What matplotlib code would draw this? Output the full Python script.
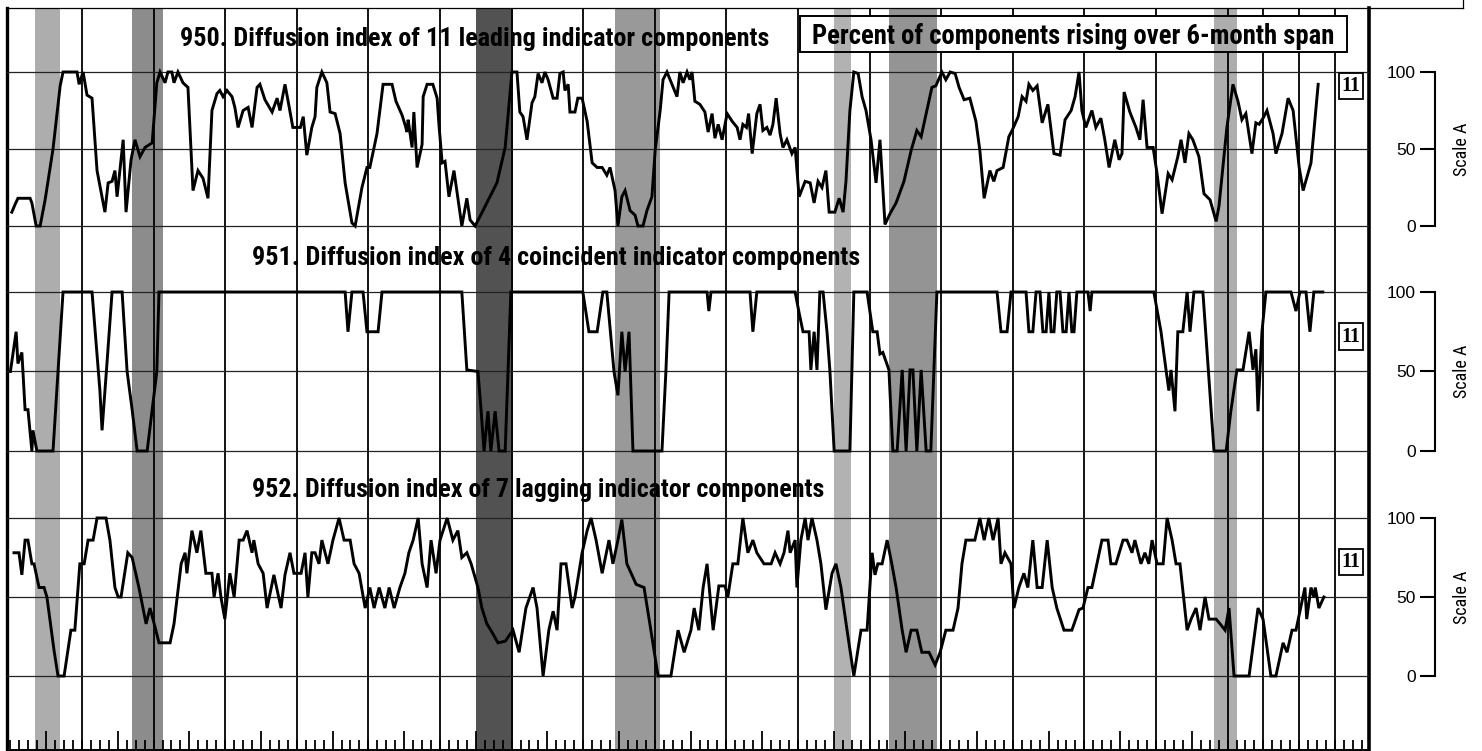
import matplotlib
matplotlib.use('Agg')
import matplotlib.pyplot as plt
from matplotlib import font_manager as fm
from matplotlib.patches import Rectangle
from matplotlib.lines import Line2D
from matplotlib.transforms import blended_transform_factory

###############################################################################
# Data (decimal years / percent rising)
###############################################################################

lead_t = [1957.04, 1957.13, 1957.21, 1957.55, 1957.60, 1957.72, 1957.83, 1957.97, 1958.19, 1958.39,
          1958.47, 1958.86, 1958.92, 1959.03, 1959.14, 1959.28, 1959.42, 1959.64, 1959.73, 1959.84,
          1959.92, 1959.98, 1960.15, 1960.23, 1960.37, 1960.48, 1960.62, 1960.76, 1960.96, 1961.09,
          1961.18, 1961.32, 1961.40, 1961.51, 1961.57, 1961.68, 1961.82, 1961.96, 1962.10, 1962.24,
          1962.38, 1962.52, 1962.63, 1962.77, 1962.85, 1962.94, 1963.05, 1963.19, 1963.27, 1963.36,
          1963.50, 1963.64, 1963.75, 1963.89, 1963.97, 1964.11, 1964.31, 1964.45, 1964.53, 1964.67,
          1964.75, 1964.89, 1965.10, 1965.18, 1965.28, 1965.42, 1965.51, 1965.56, 1965.70, 1965.84,
          1965.93, 1966.07, 1966.21, 1966.35, 1966.54, 1966.63, 1966.82, 1966.96, 1967.04, 1967.24,
          1967.41, 1967.66, 1967.77, 1967.94, 1968.02, 1968.08, 1968.11, 1968.22, 1968.27, 1968.36,
          1968.50, 1968.53, 1968.64, 1968.80, 1968.92, 1968.97, 1969.06, 1969.14, 1969.25, 1969.39,
          1969.61, 1969.75, 1969.84, 1969.98, 1970.20, 1970.59, 1970.82, 1971.01, 1971.15, 1971.23,
          1971.32, 1971.43, 1971.57, 1971.65, 1971.74, 1971.85, 1971.93, 1972.02, 1972.16, 1972.27,
          1972.35, 1972.44, 1972.49, 1972.58, 1972.63, 1972.77, 1972.85, 1972.97, 1973.11, 1973.25,
          1973.39, 1973.53, 1973.66, 1973.75, 1973.89, 1973.97, 1974.08, 1974.17, 1974.31, 1974.45,
          1974.53, 1974.67, 1974.78, 1974.92, 1975.01, 1975.15, 1975.23, 1975.34, 1975.48, 1975.62,
          1975.70, 1975.79, 1975.90, 1975.98, 1976.04, 1976.12, 1976.26, 1976.40, 1976.49, 1976.60,
          1976.68, 1976.77, 1976.88, 1977.02, 1977.16, 1977.30, 1977.38, 1977.46, 1977.56, 1977.62,
          1977.72, 1977.85, 1977.94, 1978.02, 1978.13, 1978.22, 1978.30, 1978.39, 1978.50, 1978.58,
          1978.69, 1978.83, 1978.92, 1979.03, 1979.20, 1979.34, 1979.45, 1979.56, 1979.67, 1979.78,
          1979.87, 1980.03, 1980.15, 1980.26, 1980.34, 1980.45, 1980.56, 1980.68, 1980.79, 1980.90,
          1981.04, 1981.18, 1981.29, 1981.43, 1981.57, 1981.74, 1981.96, 1982.16, 1982.32, 1982.44,
          1982.60, 1982.74, 1982.85, 1983.02, 1983.13, 1983.25, 1983.39, 1983.50, 1983.64, 1983.80,
          1983.97, 1984.08, 1984.20, 1984.36, 1984.47, 1984.56, 1984.73, 1984.89, 1984.98, 1985.15,
          1985.26, 1985.37, 1985.45, 1985.56, 1985.68, 1985.82, 1985.98, 1986.15, 1986.32, 1986.46,
          1986.63, 1986.74, 1986.85, 1986.93, 1987.04, 1987.21, 1987.32, 1987.46, 1987.57, 1987.69,
          1987.85, 1987.97, 1988.05, 1988.11, 1988.27, 1988.44, 1988.55, 1988.64, 1988.75, 1988.92,
          1989.03, 1989.17, 1989.34, 1989.45, 1989.61, 1989.70, 1989.81, 1989.92, 1990.03, 1990.20,
          1990.34, 1990.51, 1990.68, 1990.76, 1990.98, 1991.15, 1991.29, 1991.40, 1991.51, 1991.68,
          1991.79, 1991.88, 1991.99, 1992.10, 1992.27, 1992.35, 1992.52, 1992.69, 1992.83, 1993.00,
          1993.11, 1993.33, 1993.53]
lead_v = [9, 14, 18, 18, 15, 0, 0, 17, 50, 91,
          100, 100, 92, 100, 85, 83, 36, 9, 28, 29,
          36, 19, 56, 9, 43, 56, 45, 51, 54, 93,
          100, 93, 100, 100, 93, 100, 93, 90, 23, 36,
          31, 18, 75, 86, 88, 84, 88, 84, 77, 64,
          75, 77, 64, 90, 92, 82, 74, 83, 75, 92,
          82, 64, 64, 71, 46, 64, 71, 90, 100, 93,
          74, 73, 60, 28, 2, 0, 25, 38, 38, 60,
          92, 92, 81, 72, 66, 61, 69, 51, 74, 38,
          53, 84, 92, 92, 83, 66, 41, 42, 19, 36,
          0, 18, 4, 0, 10, 28, 51, 100, 100, 74,
          71, 56, 80, 84, 99, 93, 100, 95, 83, 83,
          99, 100, 88, 92, 74, 74, 83, 83, 68, 41,
          38, 38, 33, 38, 23, 0, 19, 23, 10, 7,
          0, 0, 10, 19, 49, 75, 95, 100, 92, 84,
          100, 93, 100, 95, 100, 81, 79, 74, 61, 73,
          57, 66, 56, 73, 68, 64, 56, 66, 64, 73,
          47, 73, 79, 62, 64, 59, 66, 83, 60, 51,
          56, 47, 51, 19, 29, 28, 15, 29, 25, 36,
          9, 9, 18, 9, 29, 75, 100, 99, 84, 75,
          56, 28, 56, 1, 8, 15, 29, 49, 62, 58,
          75, 90, 91, 100, 95, 100, 99, 90, 82, 83,
          68, 49, 18, 36, 29, 36, 38, 58, 62, 71,
          84, 81, 92, 88, 91, 67, 79, 47, 46, 69,
          75, 84, 100, 75, 64, 75, 64, 70, 56, 38,
          56, 43, 47, 87, 74, 64, 56, 82, 51, 51,
          34, 8, 34, 30, 45, 56, 41, 60, 56, 45,
          21, 17, 3, 13, 64, 92, 81, 69, 73, 47,
          67, 66, 70, 75, 60, 47, 60, 83, 75, 38,
          23, 41, 92]

coin_t = [1957.00, 1957.16, 1957.21, 1957.32, 1957.41, 1957.49, 1957.60, 1957.63, 1957.74, 1958.19,
          1958.33, 1958.47, 1959.28, 1959.50, 1959.56, 1959.70, 1959.84, 1960.12, 1960.26, 1960.40,
          1960.54, 1960.82, 1960.96, 1961.09, 1961.15, 1966.35, 1966.43, 1966.54, 1966.85, 1966.96,
          1967.27, 1967.38, 1969.61, 1969.75, 1970.06, 1970.15, 1970.23, 1970.34, 1970.42, 1970.54,
          1970.65, 1970.82, 1970.98, 1972.99, 1973.16, 1973.39, 1973.55, 1973.66, 1973.86, 1973.97,
          1974.08, 1974.17, 1974.28, 1974.39, 1975.20, 1975.31, 1975.40, 1976.46, 1976.51, 1976.57,
          1977.66, 1977.74, 1977.85, 1978.92, 1979.03, 1979.14, 1979.31, 1979.36, 1979.45, 1979.53,
          1979.61, 1979.70, 1979.81, 1979.89, 1980.01, 1980.45, 1980.56, 1980.93, 1981.09, 1981.21,
          1981.29, 1981.37, 1981.54, 1981.65, 1981.77, 1981.91, 1982.02, 1982.13, 1982.21, 1982.32,
          1982.44, 1982.58, 1982.71, 1982.88, 1984.56, 1984.67, 1984.84, 1984.95, 1985.37, 1985.45,
          1985.56, 1985.65, 1985.76, 1985.84, 1985.93, 1986.01, 1986.07, 1986.15, 1986.23, 1986.32,
          1986.40, 1986.49, 1986.57, 1986.65, 1986.71, 1986.79, 1987.10, 1987.16, 1987.21, 1988.94,
          1989.14, 1989.28, 1989.36, 1989.42, 1989.53, 1989.61, 1989.75, 1989.87, 1989.95, 1990.06,
          1990.31, 1990.62, 1990.96, 1991.09, 1991.26, 1991.43, 1991.60, 1991.71, 1991.79, 1991.85,
          1991.96, 1992.07, 1992.77, 1992.91, 1993.02, 1993.19, 1993.30, 1993.41, 1993.66]
coin_v = [50, 75, 55, 62, 26, 26, 0, 13, 0, 0,
          50, 100, 100, 38, 13, 56, 100, 100, 50, 26,
          0, 0, 26, 50, 100, 100, 75, 100, 100, 75,
          75, 100, 100, 51, 50, 25, 0, 25, 0, 25,
          0, 0, 100, 100, 75, 75, 100, 100, 50, 35,
          75, 50, 75, 0, 0, 50, 100, 100, 88, 100,
          100, 75, 100, 100, 87, 75, 75, 51, 75, 51,
          100, 100, 75, 51, 0, 0, 100, 100, 75, 75,
          61, 62, 51, 0, 0, 51, 0, 51, 51, 0,
          51, 0, 0, 100, 100, 75, 75, 100, 100, 75,
          75, 100, 100, 75, 75, 100, 75, 75, 100, 100,
          75, 75, 100, 75, 75, 100, 100, 88, 100, 100,
          75, 51, 38, 51, 25, 75, 75, 100, 75, 100,
          100, 0, 0, 25, 51, 51, 75, 51, 64, 25,
          75, 100, 100, 88, 100, 100, 75, 100, 100]

lag_t = [1957.10, 1957.24, 1957.32, 1957.41, 1957.49, 1957.60, 1957.66, 1957.80, 1957.94, 1958.02,
         1958.22, 1958.33, 1958.50, 1958.69, 1958.80, 1958.94, 1959.06, 1959.17, 1959.31, 1959.42,
         1959.67, 1959.78, 1959.92, 1960.01, 1960.09, 1960.28, 1960.40, 1960.59, 1960.79, 1960.90,
         1961.04, 1961.15, 1961.46, 1961.57, 1961.77, 1961.88, 1961.93, 1962.07, 1962.21, 1962.32,
         1962.46, 1962.63, 1962.69, 1962.80, 1962.88, 1962.99, 1963.13, 1963.25, 1963.39, 1963.50,
         1963.61, 1963.75, 1963.80, 1963.92, 1964.06, 1964.17, 1964.36, 1964.56, 1964.67, 1964.81,
         1964.92, 1965.12, 1965.23, 1965.31, 1965.42, 1965.51, 1965.62, 1965.70, 1965.87, 1966.01,
         1966.18, 1966.32, 1966.49, 1966.60, 1966.74, 1966.91, 1967.04, 1967.16, 1967.30, 1967.46,
         1967.58, 1967.72, 1967.88, 1968.02, 1968.13, 1968.25, 1968.39, 1968.50, 1968.64, 1968.75,
         1968.89, 1969.00, 1969.20, 1969.36, 1969.50, 1969.61, 1969.75, 1969.87, 1970.06, 1970.17,
         1970.31, 1970.42, 1970.62, 1970.82, 1971.04, 1971.21, 1971.40, 1971.60, 1971.71, 1971.88,
         1972.04, 1972.16, 1972.27, 1972.38, 1972.52, 1972.69, 1972.77, 1972.97, 1973.11, 1973.22,
         1973.36, 1973.53, 1973.72, 1973.83, 1973.97, 1974.08, 1974.22, 1974.48, 1974.70, 1974.89,
         1975.09, 1975.45, 1975.65, 1975.82, 1976.01, 1976.10, 1976.23, 1976.35, 1976.46, 1976.63,
         1976.79, 1976.96, 1977.04, 1977.18, 1977.32, 1977.46, 1977.60, 1977.74, 1977.85, 1978.05,
         1978.25, 1978.36, 1978.50, 1978.61, 1978.72, 1978.78, 1978.92, 1978.97, 1979.08, 1979.20,
         1979.28, 1979.39, 1979.53, 1979.64, 1979.78, 1979.95, 1980.06, 1980.20, 1980.37, 1980.56,
         1980.76, 1980.93, 1981.07, 1981.15, 1981.23, 1981.35, 1981.49, 1981.62, 1981.74, 1981.91,
         1982.02, 1982.16, 1982.32, 1982.46, 1982.66, 1982.83, 1982.97, 1983.13, 1983.33, 1983.47,
         1983.58, 1983.69, 1983.94, 1984.08, 1984.20, 1984.33, 1984.45, 1984.59, 1984.67, 1984.78,
         1984.95, 1985.03, 1985.17, 1985.31, 1985.42, 1985.56, 1985.68, 1985.82, 1985.96, 1986.10,
         1986.23, 1986.43, 1986.65, 1986.85, 1986.96, 1987.10, 1987.21, 1987.35, 1987.49, 1987.66,
         1987.74, 1987.88, 1988.08, 1988.19, 1988.33, 1988.41, 1988.58, 1988.69, 1988.80, 1988.89,
         1989.03, 1989.20, 1989.31, 1989.45, 1989.56, 1989.67, 1989.87, 1989.98, 1990.12, 1990.23,
         1990.37, 1990.48, 1990.68, 1990.79, 1990.93, 1991.04, 1991.18, 1991.60, 1991.85, 1991.99,
         1992.21, 1992.35, 1992.55, 1992.66, 1992.80, 1992.91, 1993.04, 1993.16, 1993.21, 1993.33,
         1993.41, 1993.45, 1993.55, 1993.69]
lag_v = [78, 78, 64, 86, 86, 71, 71, 56, 56, 50,
         16, 0, 0, 29, 29, 71, 71, 86, 86, 100,
         100, 86, 56, 50, 50, 78, 75, 56, 33, 43,
         31, 21, 21, 33, 71, 78, 65, 92, 78, 92,
         65, 65, 50, 65, 50, 36, 65, 50, 86, 86,
         92, 78, 86, 71, 65, 43, 64, 43, 64, 78,
         65, 65, 78, 50, 78, 78, 71, 86, 71, 86,
         100, 86, 86, 71, 65, 43, 56, 43, 56, 43,
         56, 43, 56, 65, 78, 86, 100, 71, 56, 86,
         65, 86, 100, 86, 92, 75, 78, 71, 56, 43,
         33, 29, 21, 22, 29, 15, 43, 56, 43, 0,
         29, 41, 29, 71, 71, 43, 50, 78, 92, 100,
         86, 65, 86, 71, 86, 99, 71, 58, 56, 29,
         0, 0, 29, 15, 29, 43, 29, 56, 71, 29,
         57, 57, 50, 71, 71, 100, 78, 86, 78, 71,
         71, 78, 71, 78, 92, 78, 86, 56, 86, 100,
         86, 100, 86, 71, 42, 65, 71, 56, 29, 0,
         29, 29, 78, 64, 71, 71, 86, 71, 56, 29,
         15, 29, 29, 15, 15, 7, 15, 29, 29, 43,
         71, 86, 86, 100, 86, 100, 86, 100, 71, 78,
         71, 43, 56, 65, 56, 86, 56, 56, 86, 56,
         43, 29, 29, 42, 43, 56, 56, 71, 86, 86,
         71, 71, 86, 86, 78, 86, 71, 78, 71, 86,
         71, 71, 100, 86, 71, 71, 29, 36, 43, 29,
         50, 36, 36, 33, 29, 43, 0, 0, 43, 36,
         0, 0, 21, 15, 29, 29, 43, 56, 36, 56,
         50, 56, 43, 50]

# recessions (peak -> trough) and how dark the halftone prints
rec_start = [1957.69, 1960.40, 1970.01, 1973.89, 1980.01, 1981.54, 1990.62]
rec_end = [1958.39, 1961.26, 1971.04, 1975.15, 1980.48, 1982.88, 1991.26]
rec_alpha = [0.32, 0.45, 0.68, 0.40, 0.30, 0.42, 0.32]

grid_years = list(range(1959, 1992, 2)) + [1992, 1993, 1994]
tall_ticks = list(range(1958, 1991, 2))
quarter_ticks = [1957 + q / 4.0 for q in range(0, 38 * 4)]

titles = ['950. Diffusion index of 11 leading indicator components',
          '951. Diffusion index of 4 coincident indicator components',
          '952. Diffusion index of 7 lagging indicator components']
box_label = 'Percent of components rising over 6-month span'

###############################################################################
# Layout (pixels of the 1482x751 page)
###############################################################################

W, H = 1482, 751
L, R, T, B = 7, 1369, 8, 750
X0, X1 = 1956.905, 1994.95

names = {f.name for f in fm.fontManager.ttflist}
tfam, tstretch = 'Liberation Sans', 'normal'
for c in ['Liberation Sans Narrow', 'Roboto Condensed', 'Arial Narrow', 'Nimbus Sans Narrow']:
    if c in names:
        tfam = c
        break
else:
    if any(f.name == 'DejaVu Sans' and f.stretch == 'condensed' for f in fm.fontManager.ttflist):
        tfam, tstretch = 'DejaVu Sans', 'condensed'

plt.rcParams['font.family'] = ['Liberation Sans', 'DejaVu Sans']

fig = plt.figure(figsize=(W / 100, H / 100), dpi=100)
ax0 = fig.add_axes([L / W, 1 - B / H, (R - L) / W, (B - T) / H])
ax0.set_xlim(X0, X1)
ax0.set_ylim(0, 1)
ax0.set_yticks([])


def fx(px):
    return (px - L) / (R - L)


def fy(py):
    return (B - py) / (B - T)


for s, e, a in zip(rec_start, rec_end, rec_alpha):
    ax0.axvspan(s, e, color='black', alpha=a, lw=0, zorder=5)
for g in grid_years:
    ax0.axvline(g, color='black', lw=1.3, zorder=1)

ax0.set_xticks(tall_ticks)
ax0.set_xticks(quarter_ticks, minor=True)
ax0.set_xticklabels([])
ax0.tick_params(axis='x', which='major', direction='in', length=14, width=1.3)
ax0.tick_params(axis='x', which='minor', direction='in', length=7, width=1.3)
ax0.spines['left'].set_linewidth(2.4)
ax0.spines['right'].set_linewidth(2.6)
ax0.spines['top'].set_linewidth(0.9)
ax0.spines['bottom'].set_linewidth(1.4)

# outer frame continues along the top
fig.add_artist(Line2D([R / W, 1463 / W], [1 - T / H, 1 - T / H], color='black', lw=0.9))
fig.add_artist(Line2D([1463 / W, 1463 / W], [1 - T / H, 1.0], color='black', lw=0.9))

tkw = dict(family=tfam, stretch=tstretch, weight='bold', fontsize=18,
           transform=ax0.transAxes, va='baseline', ha='left', zorder=3)
t1 = ax0.text(fx(180), fy(46), titles[0], **tkw)
t2 = ax0.text(fx(252), fy(265), titles[1], **tkw)
t3 = ax0.text(fx(252), fy(497), titles[2], **tkw)
ax0.add_patch(Rectangle((fx(800), fy(52)), fx(1347) - fx(800), fy(16) - fy(52),
                        transform=ax0.transAxes, fc='white', ec='black', lw=1.4, zorder=2))
t4 = ax0.text(fx(1073), fy(44), box_label, **dict(tkw, ha='center'))

###############################################################################
# Panels
###############################################################################

panels = [(226, 72, lead_t, lead_v, 91), (451, 292, coin_t, coin_v, 72), (676, 518, lag_t, lag_v, 72)]
lo, hi = -6, 106
for y0, y100, t, v, v11 in panels:
    ppv = (y0 - y100) / 100.0
    bot = y0 - lo * ppv
    top = y0 - hi * ppv
    ax = fig.add_axes([L / W, 1 - bot / H, (R - L) / W, (bot - top) / H])
    ax.set_xlim(X0, X1)
    ax.set_ylim(lo, hi)
    ax.patch.set_visible(False)
    for sp in ['top', 'right', 'bottom']:
        ax.spines[sp].set_visible(False)
    ax.spines['left'].set_position(('axes', fx(1435)))
    ax.spines['left'].set_bounds(0, 100)
    ax.spines['left'].set_linewidth(1.5)
    ax.set_xticks([])
    ax.set_yticks([0, 50, 100])
    ax.tick_params(axis='y', direction='out', length=11, width=1.5, labelsize=12.5, pad=3)
    for lv in [0, 50, 100]:
        ax.axhline(lv, color='#222222', lw=0.9, zorder=1)
    ax.plot(t, v, color='black', lw=2.1, solid_joinstyle='miter', zorder=4)
    tr = blended_transform_factory(ax.transAxes, ax.transData)
    ax.text(fx(1351), v11, '11', transform=tr, ha='center', va='center', family='Liberation Serif',
            weight='bold', fontsize=14.5, zorder=6,
            bbox=dict(boxstyle='square,pad=0.15', fc='white', ec='black', lw=1.3))
    fig.text(1462 / W, 1 - (y0 - 50 * ppv) / H, 'Scale A', rotation=90, ha='center', va='center',
             family=tfam, stretch=tstretch, fontsize=13)

# squeeze the bold headings to the width they take on the page
fig.canvas.draw()
rend = fig.canvas.get_renderer()
for txt, wpx in [(t1, 587), (t2, 608), (t3, 574), (t4, 522)]:
    w = txt.get_window_extent(rend).width
    txt.set_fontsize(txt.get_fontsize() * wpx / w)

fig.savefig('out.png', dpi=100)
